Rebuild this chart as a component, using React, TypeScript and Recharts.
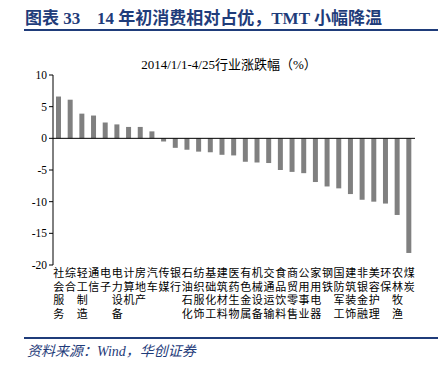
import React from "react";
import { BarChart, Bar, XAxis, YAxis, ReferenceLine } from "recharts";

// 行业名称（申万一级）
const industries = [
  "社会服务", "综合", "轻工制造", "通信", "电子", "电力设备", "计算机", "房地产",
  "汽车", "传媒", "银行", "石油石化", "纺织服饰", "基础化工", "建筑材料", "医药生物",
  "有色金属", "机械设备", "交通运输", "食品饮料", "商贸零售", "公用事业", "家用电器",
  "钢铁", "国防军工", "建筑装饰", "非银金融", "美容护理", "环保", "农林牧渔", "煤炭",
];

// 2014/1/1-4/25 涨跌幅（%）
const changes = [
  6.6, 6.1, 3.9, 3.6, 2.5, 2.2, 1.8, 1.8,
  1.1, -0.5, -1.5, -1.8, -2.1, -2.2, -2.6, -2.7,
  -3.7, -3.8, -3.9, -5.0, -5.3, -5.5, -6.9,
  -7.6, -7.9, -8.8, -9.7, -10.0, -10.3, -12.1, -18.1,
];

const yTicks = [10, 5, 0, -5, -10, -15, -20];

const data = industries.map((name, i) => ({ name, value: changes[i] }));

const BLUE = "#1f3c7a";
const CJK = '"Liberation Serif", "Noto Sans CJK SC", serif';

const VerticalTick = (props: any) => {
  const { x, y, payload } = props;
  const chars = String(payload.value).split("");
  return (
    <g>
      {chars.map((c: string, i: number) => (
        <text
          key={i}
          x={x}
          y={y + 4 + i * 13.5}
          textAnchor="middle"
          fontSize={11}
          fontFamily={CJK}
          fill="#000"
        >
          {c}
        </text>
      ))}
    </g>
  );
};

export default function App() {
  const titleStyle: React.CSSProperties = {
    position: "absolute",
    top: 4,
    fontSize: 17,
    fontWeight: "bold",
    color: BLUE,
    fontFamily: CJK,
    whiteSpace: "pre",
  };
  return (
    <div
      style={{
        position: "absolute",
        left: 0,
        top: 0,
        width: 444,
        height: 366,
        background: "#fff",
        overflow: "hidden",
      }}
    >
      <div style={{ ...titleStyle, left: 25 }}>图表 33</div>
      <div style={{ ...titleStyle, left: 97 }}>14 年初消费相对占优，TMT 小幅降温</div>
      <div
        style={{
          position: "absolute",
          left: 24,
          top: 29,
          width: 414,
          height: 2,
          background: BLUE,
        }}
      />
      <BarChart
        width={444}
        height={366}
        data={data}
        margin={{ top: 75, right: 29, bottom: 41, left: 23 }}
        barCategoryGap={0}
      >
        <text
          x={229}
          y={69}
          textAnchor="middle"
          fontSize={13}
          fontFamily={CJK}
          fill="#000"
        >
          2014/1/1-4/25行业涨跌幅（%）
        </text>
        <XAxis
          dataKey="name"
          interval={0}
          axisLine={false}
          tickLine={false}
          height={60}
          tick={<VerticalTick />}
        />
        <YAxis
          domain={[-20, 10]}
          ticks={yTicks}
          interval={0}
          width={30}
          tickSize={4}
          axisLine={{ stroke: "#000" }}
          tickLine={{ stroke: "#000" }}
          tick={{ fontSize: 11.5, fill: "#000", fontFamily: CJK }}
        />
        <ReferenceLine y={0} stroke="#000" strokeWidth={1} />
        <Bar dataKey="value" fill="#808080" barSize={5} isAnimationActive={false} />
      </BarChart>
      <div
        style={{
          position: "absolute",
          left: 24,
          top: 337,
          width: 414,
          height: 1.5,
          background: BLUE,
        }}
      />
      <div
        style={{
          position: "absolute",
          left: 27,
          top: 340,
          fontSize: 14,
          fontStyle: "italic",
          color: BLUE,
          fontFamily: CJK,
        }}
      >
        资料来源：Wind，华创证券
      </div>
    </div>
  );
}
